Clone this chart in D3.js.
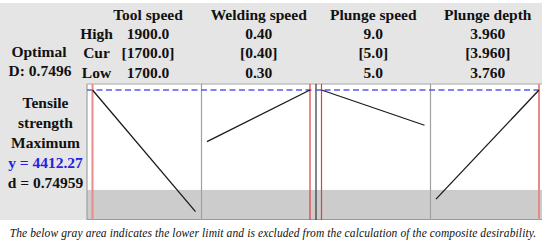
<!DOCTYPE html>
<html><head><meta charset="utf-8">
<script src="https://cdn.jsdelivr.net/npm/d3@7"></script>
<style>body{margin:0;background:#fff;}svg{display:block;}</style>
</head><body><svg id="c" width="542" height="246"></svg>
<script>
const factors = ["Tool speed","Welding speed","Plunge speed","Plunge depth"];
const highLabels = ["1900.0","0.40","9.0","3.960"];
const curLabels = ["[1700.0]","[0.40]","[5.0]","[3.960]"];
const lowLabels = ["1700.0","0.30","5.0","3.760"];
const lowVals = [1700, 0.30, 5.0, 3.760];
const highVals = [1900, 0.40, 9.0, 3.960];
const curVals = [1700, 0.40, 5.0, 3.960];
const respAtLow = [4412.27, 4199.2, 4412.27, 3961.8];
const respAtHigh = [3910.6, 4412.27, 4266.8, 4412.27];
const optimalD = "D: 0.7496";
const responseName = ["Tensile","strength","Maximum"];
const yPred = "y = 4412.27";
const dVal = "d = 0.74959";
const lowerLimit = 4000;
const yDomain = [3880, 4437];
const caption = "The below gray area indicates  the lower limit and is excluded from the calculation of the composite desirability.";

const svg = d3.select("#c");
const pTop = 84, pBottom = 219;
const font = "'Liberation Serif','Times New Roman',serif";

svg.append("rect").attr("x",0).attr("y",3).attr("width",542).attr("height",217).attr("fill","#e5e5e5");

const px = d3.scaleBand().domain(factors).range([87, 545]).padding(0);
const y = d3.scaleLinear().domain(yDomain).range([pBottom, pTop]);

factors.forEach((f,i)=>{
  const L = px(f), W = px.bandwidth();
  svg.append("rect").attr("x",L).attr("y",pTop).attr("width",W).attr("height",pBottom-pTop).attr("fill","#fff");
  svg.append("rect").attr("x",L).attr("y",y(lowerLimit)).attr("width",W).attr("height",pBottom-y(lowerLimit)).attr("fill","#cccccc");
});
svg.append("line").attr("x1",87).attr("x2",545).attr("y1",pTop).attr("y2",pTop).attr("stroke","#a8a8a8");
svg.append("line").attr("x1",87).attr("x2",545).attr("y1",pBottom+0.5).attr("y2",pBottom+0.5).attr("stroke","#9a9a9a").attr("stroke-width",1.2);
factors.forEach((f,i)=>{
  const L = px(f);
  svg.append("line").attr("x1",L).attr("x2",L).attr("y1",pTop).attr("y2",pBottom+1)
    .attr("stroke", i===2 ? "#333" : "#a0a0a0").attr("stroke-width",1.2);
});

svg.append("line").attr("x1",87).attr("x2",545).attr("y1",y(respAtLow[0])).attr("y2",y(respAtLow[0]))
  .attr("stroke","#5a5af0").attr("stroke-width",1.5).attr("stroke-dasharray","6,3.5");

factors.forEach((f,i)=>{
  const L = px(f), W = px.bandwidth();
  const x = d3.scaleLinear().domain([lowVals[i], highVals[i]]).range([L+5.5, L+W-6]);
  const edge = (i===0||i===3);
  svg.append("line").attr("x1",x(curVals[i])).attr("x2",x(curVals[i])).attr("y1",pTop).attr("y2",pBottom+1)
    .attr("stroke", edge ? "#e88a8a" : "#e03c3c").attr("stroke-width", edge ? 2 : 1.2);
  const pts = [[lowVals[i], respAtLow[i]],[highVals[i], respAtHigh[i]]];
  svg.append("path").attr("d", d3.line().x(d=>x(d[0])).y(d=>y(d[1]))(pts))
    .attr("fill","none").attr("stroke","#1a1a1a").attr("stroke-width",1.3);
});

const hx = i => i===0 ? 148 : px(factors[i]) + px.bandwidth()/2;
const txt = (t,x0,y0,opts={}) => svg.append("text").attr("x",x0).attr("y",y0).text(t)
  .attr("font-family",font).attr("font-weight","bold").attr("font-size",opts.size||15.5)
  .attr("text-anchor",opts.anchor||"middle").attr("fill",opts.fill||"#111");
factors.forEach((f,i)=>{
  txt(f, hx(i), 20);
  txt(highLabels[i], hx(i), 39);
  txt(curLabels[i], hx(i), 58);
  txt(lowLabels[i], hx(i), 78);
});
txt("High", 96.5, 39);
txt("Cur", 96.5, 58);
txt("Low", 96.5, 78);
txt("Optimal", 39, 57);
txt(optimalD, 40, 76);
responseName.forEach((t,k)=> txt(t, 45.5, 108 + k*20));
txt(yPred, 45.5, 168, {fill:"#2222e0"});
txt(dVal, 45.5, 188);

svg.append("text").attr("x",273).attr("y",237).text(caption)
  .attr("text-anchor","middle").attr("letter-spacing",0.1)
  .attr("font-family",font).attr("font-style","italic").attr("font-size",11.5).attr("fill","#111");
</script></body></html>
